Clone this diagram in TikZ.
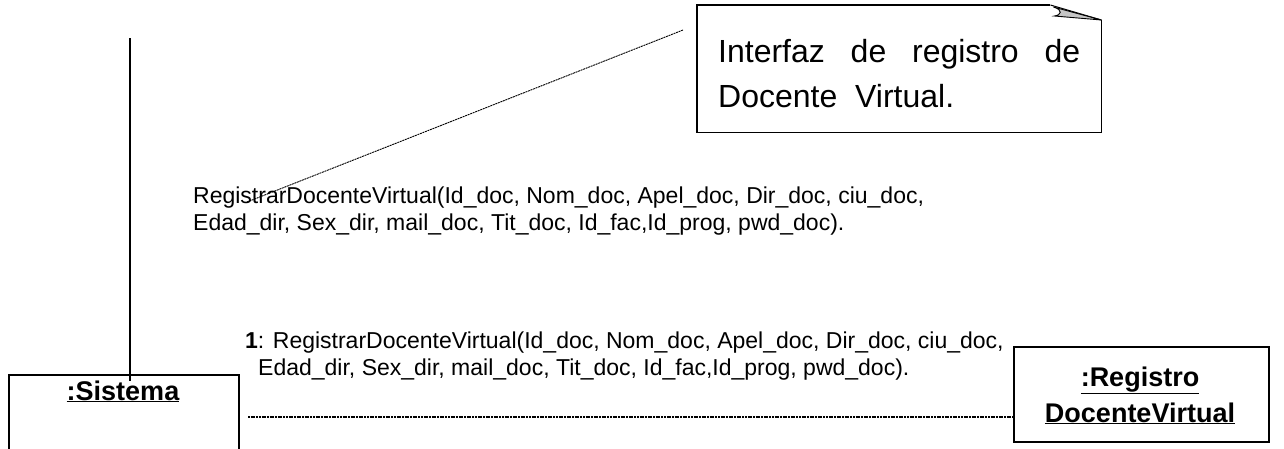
\documentclass[tikz,border=0pt]{standalone}
\usepackage{fontspec}
\setmainfont{Liberation Sans}
\begin{document}
\begin{tikzpicture}[x=1pt,y=-1pt,
  objbox/.style={draw, line width=1.6pt, inner sep=0pt},
  objlabel/.style={font=\fontsize{27}{36}\selectfont\bfseries, inner sep=0pt, anchor=base},
  msgtext/.style={font=\fontsize{23}{27}\selectfont, inner sep=0pt, anchor=base west},
  notetext/.style={font=\fontsize{32}{45}\selectfont, inner sep=0pt, anchor=base west},
  link/.style={line width=1.1pt, dash pattern=on 2pt off 0.7pt},
  life/.style={line width=1.6pt}]
\useasboundingbox (0,0) rectangle (1284,448);
\clip (0,0) rectangle (1284,448);

% object :Sistema (runs past the lower edge)
\node[objbox, minimum width=230, minimum height=110, anchor=north west] (sistema) at (8,374) {};
\node[objlabel] (sislabel) at (123,400) {\underline{:Sistema}};

% lifeline above :Sistema
\coordinate (lifetop) at (130,38);
\coordinate (lifeend) at (130,381);
\draw[life] (lifetop) -- (lifeend);

% object :RegistroDocenteVirtual
\node[objbox, minimum width=255, minimum height=95, anchor=north west] (registro) at (1013,346) {};
\node[objlabel] (reglabela) at (1140,386) {\underline{:Registro}};
\node[objlabel] (reglabelb) at (1140,422) {\underline{DocenteVirtual}};

% link between the two objects
\coordinate (linkstart) at (248,417);
\draw[link] (linkstart) -- (registro.west |- linkstart);

% message on the link
\node[msgtext] (msg1a) at (245,348) {\textbf{1}: RegistrarDocenteVirtual(Id\_doc, Nom\_doc, Apel\_doc, Dir\_doc, ciu\_doc,};
\node[msgtext] (msg1b) at (258,375) {Edad\_dir, Sex\_dir, mail\_doc, Tit\_doc, Id\_fac,Id\_prog, pwd\_doc).};

% operation text under the note
\node[msgtext] (msg0a) at (193,203) {RegistrarDocenteVirtual(Id\_doc, Nom\_doc, Apel\_doc, Dir\_doc, ciu\_doc,};
\node[msgtext] (msg0b) at (193,230) {Edad\_dir, Sex\_dir, mail\_doc, Tit\_doc, Id\_fac,Id\_prog, pwd\_doc).};

% note with folded corner
\node[minimum width=404, minimum height=127, inner sep=0pt, anchor=north west] (note) at (697,5) {};
\draw[line width=1.6pt] ([yshift=-15pt]note.north east) -- (note.south east) -- (note.south west)
  -- (note.north west) -- ([xshift=-51pt]note.north east);
\draw[line width=1pt] ([xshift=-51pt]note.north east) -- ([yshift=-15pt]note.north east);
\filldraw[fill=gray!45, line width=0.9pt] ([xshift=-48pt,yshift=-2pt]note.north east)
  .. controls ([xshift=-38pt,yshift=-5pt]note.north east) and ([xshift=-40pt,yshift=-10pt]note.north east)
  .. ([xshift=-47pt,yshift=-11pt]note.north east) -- ([yshift=-15pt]note.north east) -- cycle;
\node[notetext] (notea) at (718,62) {\makebox[362pt][s]{Interfaz de registro de}};
\node[notetext] (noteb) at (718,107) {Docente~~Virtual.};

% anchor line from the note to the operation
\coordinate (notelink) at (683,30);
\coordinate (oplink) at (247,202);
\draw[link, line width=0.9pt] (notelink) -- (oplink);
\end{tikzpicture}
\end{document}
